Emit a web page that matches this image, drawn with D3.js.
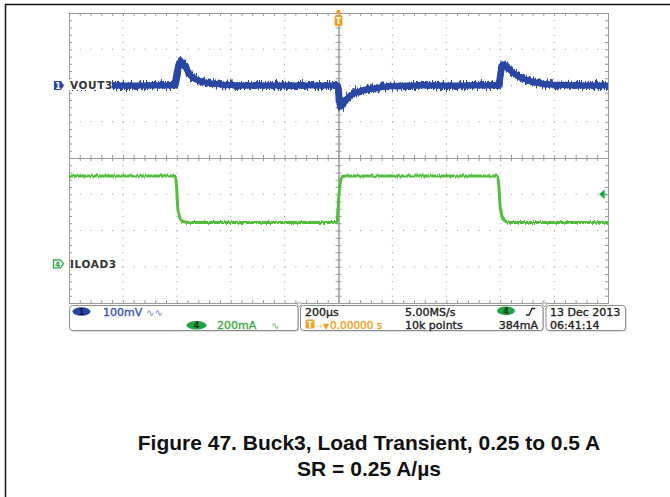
<!DOCTYPE html>
<html>
<head>
<meta charset="utf-8">
<script src="https://cdn.jsdelivr.net/npm/d3@7"></script>
<style>
  html, body { margin: 0; padding: 0; background: #fff; }
  svg { display: block; }
</style>
</head>
<body>
<svg id="chart" width="670" height="497"></svg>
<script>
// ---- Scope settings ----
const timePerDiv = 200;            // µs/div, trigger at screen centre
const majorTimes = d3.range(-1000, 1001, 200);
const minorTimes = d3.range(-25, 26).map(i => i * 40);
const majorDivs = d3.range(-4, 5);
const minorDivs = d3.range(-20, 21).map(i => i * 0.2);

// Channel 1: VOUT3, 100 mV/div (AC), marker at +2 div
const voutTime = [-1000, -607, -599, -592, -586, -580, -572, -563, -551, -533, -514, -477, -440, -380, -320,
                  -2, 3, 8, 15, 25, 49, 98, 147, 200, 260,
                  594, 601, 607, 613, 620, 630, 643, 666, 703, 740, 785, 850, 900, 1000];
const voutMV   = [0, 0, 32, 58, 66, 64, 56, 45, 29, 18, 12, 6, 3, 1, 0,
                  0, -45, -58, -54, -42, -26, -13, -6, -2, 0,
                  0, 30, 53, 58, 55, 47, 38, 26, 14, 7, 3, 1, 0, 0];

// Channel 4: ILOAD3, 200 mA/div, marker at -2.92 div
const iloadTime = [-1000, -606, -601, -597, -592, -585, -575, -555,
                   -6, -2, 3, 8, 14, 25,
                   590, 595, 599, 604, 610, 620, 635, 1000];
const iloadA    = [0.485, 0.485, 0.43, 0.32, 0.27, 0.245, 0.232, 0.228,
                   0.228, 0.30, 0.40, 0.46, 0.482, 0.485,
                   0.485, 0.43, 0.33, 0.28, 0.25, 0.235, 0.228, 0.228];
const triggerLevelA = 0.384;

// Readout texts
const ch1Label = "VOUT3";
const ch4Label = "ILOAD3";
const ch1Scale = "100mV";
const ch4Scale = "200mA";
const timebase = "200µs";
const triggerPos = "0.00000 s";
const sampleRate = "5.00MS/s";
const recordLen = "10k points";
const trigLevelText = "384mA";
const dateText = "13 Dec  2013";
const timeText = "06:41:14";
const captionLines = ["Figure 47. Buck3, Load Transient, 0.25 to 0.5 A", "SR = 0.25 A/µs"];

// ---- Colours ----
const BLUE = "#2946a3";
const GREEN = "#52bd3e";
const GREEN_DARK = "#24a243";
const ORANGE = "#f0a020";
const GRID = "#9a9a9a";

const svg = d3.select("#chart");
const L = 69, T = 13, R = 608, B = 303;

const x = d3.scaleLinear().domain([-5 * timePerDiv, 5 * timePerDiv]).range([L, R]);
const yDiv = d3.scaleLinear().domain([-4, 4]).range([B, T]);
const yV = d3.scaleLinear().domain([(-4 - 2) * 100, (4 - 2) * 100]).range([B, T]);
const yI = d3.scaleLinear().domain([(-4 + 2.92) * 0.2, (4 + 2.92) * 0.2]).range([B, T]);

// ---- Page frame ----
svg.append("path").attr("d", "M5.5,497 V4.5 H670")
  .attr("fill", "none").attr("stroke", "#111").attr("stroke-width", 1.5);

// ---- Noise filters for the traces (vertical jitter per column) ----
const defs = svg.append("defs");
function noiseFilter(id, freq, scale, seed) {
  const f = defs.append("filter").attr("id", id)
    .attr("filterUnits", "userSpaceOnUse")
    .attr("x", 40).attr("y", 0).attr("width", 600).attr("height", 320);
  f.append("feTurbulence").attr("type", "fractalNoise")
    .attr("baseFrequency", freq).attr("numOctaves", 2).attr("seed", seed).attr("result", "n");
  const ct = f.append("feComponentTransfer").attr("in", "n").attr("result", "m");
  ct.append("feFuncR").attr("type", "linear").attr("slope", 0).attr("intercept", 0.5);
  f.append("feDisplacementMap").attr("in", "SourceGraphic").attr("in2", "m")
    .attr("scale", scale).attr("xChannelSelector", "R").attr("yChannelSelector", "G");
}
noiseFilter("noiseV", "0.8 0.03", 9, 4);
noiseFilter("noiseI", "0.7 0.05", 4, 9);

// ---- Graticule ----
const grat = svg.append("g").attr("class", "graticule");
// dotted division lines
grat.selectAll("line.v").data(majorTimes.filter(t => Math.abs(t) !== 1000 && t !== 0))
  .join("line").attr("class", "v")
  .attr("x1", d => x(d)).attr("x2", d => x(d)).attr("y1", T).attr("y2", B)
  .attr("stroke", GRID).attr("stroke-width", 1)
  .attr("stroke-dasharray", `1,${(B - T) / 40 - 1}`);
grat.selectAll("line.h").data(majorDivs.filter(d => Math.abs(d) !== 4 && d !== 0))
  .join("line").attr("class", "h")
  .attr("x1", L).attr("x2", R).attr("y1", d => yDiv(d)).attr("y2", d => yDiv(d))
  .attr("stroke", GRID).attr("stroke-width", 1)
  .attr("stroke-dasharray", `1,${(R - L) / 50 - 1}`);

function styleAxis(g) {
  g.selectAll("path, line").attr("stroke", GRID).attr("stroke-width", 1);
  g.selectAll("text").remove();
}
// border with inward minor ticks
grat.append("g").attr("transform", `translate(0,${T})`)
  .call(d3.axisBottom(x).tickValues(minorTimes).tickSize(3).tickSizeOuter(0).tickFormat("")).call(styleAxis);
grat.append("g").attr("transform", `translate(0,${B})`)
  .call(d3.axisTop(x).tickValues(minorTimes).tickSize(3).tickSizeOuter(0).tickFormat("")).call(styleAxis);
grat.append("g").attr("transform", `translate(${L},0)`)
  .call(d3.axisRight(yDiv).tickValues(minorDivs).tickSize(3).tickSizeOuter(0).tickFormat("")).call(styleAxis);
grat.append("g").attr("transform", `translate(${R},0)`)
  .call(d3.axisLeft(yDiv).tickValues(minorDivs).tickSize(3).tickSizeOuter(0).tickFormat("")).call(styleAxis);
// centre cross-hair with ticks on both sides
const yc = yDiv(0), xc = x(0);
grat.append("g").attr("transform", `translate(0,${yc})`)
  .call(d3.axisBottom(x).tickValues(minorTimes).tickSize(3).tickSizeOuter(0).tickFormat("")).call(styleAxis);
grat.append("g").attr("transform", `translate(0,${yc})`)
  .call(d3.axisTop(x).tickValues(minorTimes).tickSize(3).tickSizeOuter(0).tickFormat("")).call(styleAxis);
grat.append("g").attr("transform", `translate(${xc},0)`)
  .call(d3.axisRight(yDiv).tickValues(minorDivs).tickSize(3).tickSizeOuter(0).tickFormat("")).call(styleAxis);
grat.append("g").attr("transform", `translate(${xc},0)`)
  .call(d3.axisLeft(yDiv).tickValues(minorDivs).tickSize(3).tickSizeOuter(0).tickFormat("")).call(styleAxis);

// ---- Traces ----
const voutPts = voutTime.map((t, i) => [t, voutMV[i]]);
const iloadPts = iloadTime.map((t, i) => [t, iloadA[i]]);

const voutLine = d3.line().x(d => x(d[0])).y(d => yV(d[1])).curve(d3.curveMonotoneX);
const iloadLine = d3.line().x(d => x(d[0])).y(d => yI(d[1])).curve(d3.curveMonotoneX);

svg.append("path").datum(iloadPts).attr("d", iloadLine)
  .attr("fill", "none").attr("stroke", GREEN).attr("stroke-width", 3)
  .attr("filter", "url(#noiseI)");
// solid core of the VOUT band plus a jittered layer for the ragged edges
svg.append("path").datum(voutPts).attr("d", voutLine)
  .attr("fill", "none").attr("stroke", BLUE).attr("stroke-width", 6)
  .attr("stroke-linejoin", "round");
svg.append("path").datum(voutPts).attr("d", voutLine)
  .attr("fill", "none").attr("stroke", BLUE).attr("stroke-width", 7)
  .attr("stroke-linejoin", "round")
  .attr("filter", "url(#noiseV)");

// ---- Channel markers and labels ----
const y1 = yV(0);
svg.append("rect").attr("x", 63).attr("y", y1 - 6).attr("width", 49).attr("height", 10.5).attr("fill", "#fff");
svg.append("path").attr("d", `M54,${y1 - 4.5} h7 l3,4.5 l-3,4.5 h-7 Z`).attr("fill", BLUE);
svg.append("text").attr("x", 58).attr("y", y1 + 3.2).attr("text-anchor", "middle")
  .attr("font-family", "DejaVu Sans").attr("font-weight", "bold").attr("font-size", 8).attr("fill", "#fff").text("1");
svg.append("text").attr("x", 70).attr("y", y1 + 3.8)
  .attr("font-family", "DejaVu Sans").attr("font-weight", "bold").attr("font-size", 10.5)
  .attr("letter-spacing", 0.6).attr("fill", "#333").text(ch1Label);

const y4 = yI(0);
svg.append("path").attr("d", `M53.5,${y4 - 4} h7 l3,4 l-3,4 h-7 Z`)
  .attr("fill", "#fff").attr("stroke", GREEN_DARK).attr("stroke-width", 1.2);
svg.append("text").attr("x", 57.5).attr("y", y4 + 3).attr("text-anchor", "middle")
  .attr("font-family", "DejaVu Sans").attr("font-weight", "bold").attr("font-size", 7.5).attr("fill", GREEN_DARK).text("4");
svg.append("text").attr("x", 70).attr("y", y4 + 3.8)
  .attr("font-family", "DejaVu Sans").attr("font-weight", "bold").attr("font-size", 10.5)
  .attr("letter-spacing", 0.6).attr("fill", "#333").text(ch4Label);

// trigger position marker (top) and trigger level marker (right)
svg.append("circle").attr("cx", xc).attr("cy", 12).attr("r", 2.3).attr("fill", ORANGE);
svg.append("rect").attr("x", xc - 4).attr("y", 15).attr("width", 8).attr("height", 11).attr("rx", 2).attr("fill", ORANGE);
svg.append("text").attr("x", xc).attr("y", 24).attr("text-anchor", "middle")
  .attr("font-family", "DejaVu Sans").attr("font-weight", "bold").attr("font-size", 8).attr("fill", "#fff").text("T");
const yTrig = yI(triggerLevelA);
svg.append("path").attr("d", `M${R - 8},${yTrig} l4,-3.5 v7 Z M${R - 5},${yTrig} h4`)
  .attr("fill", GREEN_DARK).attr("stroke", GREEN_DARK).attr("stroke-width", 1.2);

// ---- Readout boxes ----
const readout = svg.append("g").attr("font-family", "DejaVu Sans").attr("font-size", 11);
function box(x0, x1) {
  readout.append("rect").attr("x", x0 + 1).attr("y", 306.5).attr("width", x1 - x0).attr("height", 25)
    .attr("rx", 3).attr("fill", "#c8c8c8");
  readout.append("rect").attr("x", x0).attr("y", 305.5).attr("width", x1 - x0).attr("height", 25)
    .attr("rx", 3).attr("fill", "#fff").attr("stroke", "#8a8a8a").attr("stroke-width", 1);
}
box(69.5, 298);
box(300.5, 543);
box(546, 625.5);
// small notch markers on the top edge
[299.3, 544.5].forEach(px => readout.append("path")
  .attr("d", `M${px - 3},303 h6 l-3,4 Z`).attr("fill", "#fff").attr("stroke", "#8a8a8a").attr("stroke-width", 0.8));

const row1 = 315.5, row2 = 328.5;
function txt(xp, yp, s, fill, extra) {
  const t = readout.append("text").attr("x", xp).attr("y", yp).attr("fill", fill)
    .attr("stroke", fill).attr("stroke-width", 0.35).text(s);
  if (extra) extra(t);
  return t;
}
// channel 1 readout
readout.append("ellipse").attr("cx", 81.5).attr("cy", 311.5).attr("rx", 9).attr("ry", 4.3).attr("fill", BLUE);
readout.append("text").attr("x", 81.5).attr("y", 314.5).attr("text-anchor", "middle")
  .attr("font-size", 8).attr("font-weight", "bold").attr("fill", "#0a1440").text("1");
txt(103, row1, ch1Scale, "#3452b4");
readout.append("text").attr("x", 146).attr("y", row1).attr("font-size", 10).attr("fill", "#6d82c8").text("∿∿");
// channel 4 readout
readout.append("ellipse").attr("cx", 196.5).attr("cy", 325.3).attr("rx", 10).attr("ry", 4.3).attr("fill", GREEN_DARK);
readout.append("text").attr("x", 196.5).attr("y", 328.3).attr("text-anchor", "middle")
  .attr("font-size", 8).attr("font-weight", "bold").attr("fill", "#0a3a12").text("4");
txt(217, row2, ch4Scale, "#3aab3e");
readout.append("text").attr("x", 271).attr("y", row2).attr("font-size", 10).attr("fill", "#5cbf5a").text("∿");

// timebase readout
txt(305, row1, timebase, "#222");
readout.append("rect").attr("x", 305.5).attr("y", 319.5).attr("width", 9).attr("height", 9).attr("rx", 1.5).attr("fill", ORANGE);
readout.append("text").attr("x", 310).attr("y", 327.5).attr("text-anchor", "middle")
  .attr("font-size", 8).attr("font-weight", "bold").attr("fill", "#fff").text("T");
readout.append("text").attr("x", 316).attr("y", row2).attr("font-size", 8).attr("fill", "#f3c070").text("→");
readout.append("text").attr("x", 323).attr("y", row2).attr("font-size", 8).attr("fill", ORANGE).text("▼");
txt(330, row2, triggerPos, ORANGE, t => t.attr("font-size", 10.5));
txt(405, row1, sampleRate, "#222");
txt(405, row2, recordLen, "#222");
// trigger readout
readout.append("ellipse").attr("cx", 506).attr("cy", 310.8).attr("rx", 9).attr("ry", 4.3).attr("fill", GREEN_DARK);
readout.append("text").attr("x", 506).attr("y", 313.8).attr("text-anchor", "middle")
  .attr("font-size", 8).attr("font-weight", "bold").attr("fill", "#0a3a12").text("4");
readout.append("path").attr("d", "M526,315 h3 l3,-6.5 h3").attr("fill", "none")
  .attr("stroke", "#222").attr("stroke-width", 1.4);
txt(538, row2, trigLevelText, "#222", t => t.attr("text-anchor", "end"));
// date / time
txt(550, row1, dateText, "#222");
txt(550, row2, timeText, "#222");

// ---- Caption ----
svg.append("g").selectAll("text").data(captionLines).join("text")
  .attr("x", 369).attr("y", (d, i) => 450 + i * 26)
  .attr("text-anchor", "middle")
  .attr("font-family", "Liberation Sans, Arial, sans-serif")
  .attr("font-weight", "bold").attr("font-size", 21).attr("fill", "#111")
  .text(d => d);
</script>
</body>
</html>
